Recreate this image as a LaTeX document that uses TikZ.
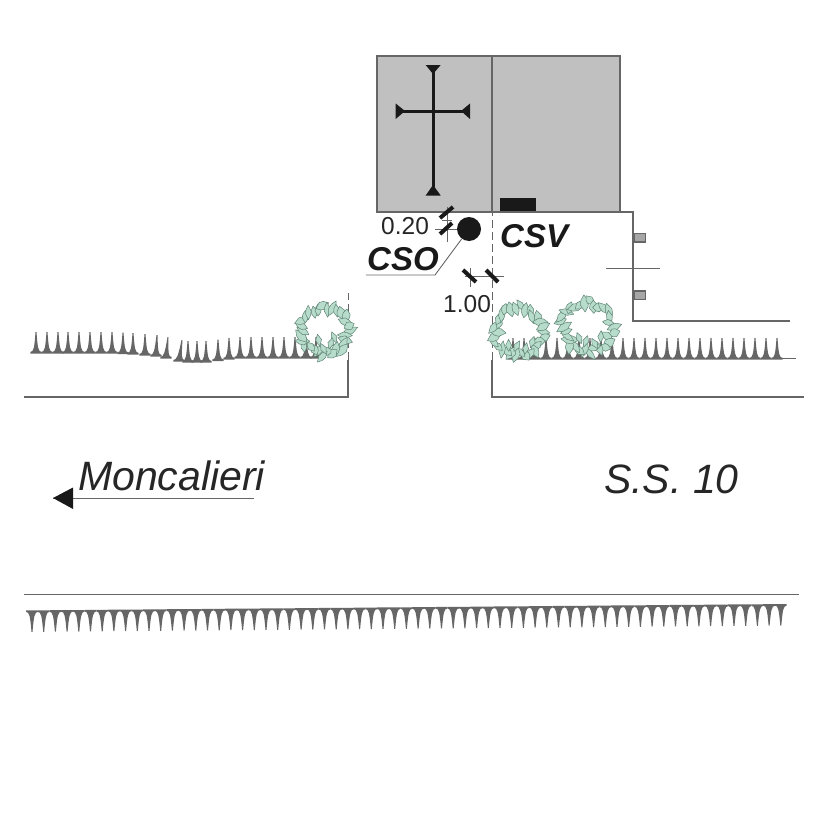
\documentclass[tikz,border=0pt]{standalone}
\usepackage{fontspec}
\setmainfont{Liberation Sans}
\definecolor{linegray}{HTML}{666666}
\definecolor{wallgray}{HTML}{C0C0C0}
\definecolor{grassgray}{HTML}{666666}
\definecolor{leafgreen}{HTML}{B7DCCB}
\definecolor{leafedge}{HTML}{5F8475}
\newcommand{\spike}[3]{%
    \fill[grassgray] ({#1-5.6},#2) .. controls ({#1-2.4},{#2-0.2}) and ({#1-1.6+0.3*#3},{#2-4}) .. ({#1-0.5+#3},{#2-20}) -- ({#1+0.5+#3},{#2-20})
        .. controls ({#1+1.6+0.3*#3},{#2-4}) and ({#1+2.4},{#2-0.2}) .. ({#1+5.6},#2) -- ({#1+5.6},{#2+1.6}) -- ({#1-5.6},{#2+1.6}) -- cycle;
}
\newcommand{\rootspike}[2]{%
    \fill[grassgray] ({#1-5.9},{#2}) .. controls ({#1-2.6},{#2+0.2}) and ({#1-1.9},{#2+4}) .. ({#1-0.5},{#2+20}) -- ({#1+0.5},{#2+20})
        .. controls ({#1+1.9},{#2+4}) and ({#1+2.6},{#2+0.2}) .. ({#1+5.9},{#2}) -- ({#1+5.9},{#2-1.5}) -- ({#1-5.9},{#2-1.5}) -- cycle;
}
\newcommand{\bush}[4]{%
    \pgfmathsetseed{#4}
    \foreach \a in {0,12,...,350} {
        \pgfmathsetmacro{\leafr}{#3-3+7*rnd}
        \pgfmathsetmacro{\leafl}{5.5+3.5*rnd}
        \pgfmathsetmacro{\leafw}{2.8+1.7*rnd}
        \pgfmathsetmacro{\leaft}{\a+130*rnd-65}
        \draw[leaf,shift={({#1+\leafr*cos(\a)},{#2+\leafr*sin(\a)})},rotate=\leaft]
            (-\leafl,0) -- (-0.2*\leafl,-\leafw) -- (0.4*\leafl,-0.8*\leafw) -- (\leafl,0) -- (0.2*\leafl,\leafw) -- (-0.4*\leafl,0.8*\leafw) -- cycle;
    }
    \foreach \a in {35,65,...,145} {
        \pgfmathsetmacro{\leafr}{#3-12+8*rnd}
        \pgfmathsetmacro{\leaft}{60+60*rnd}
        \draw[leaf,shift={({#1+\leafr*cos(\a)},{#2+\leafr*sin(\a)})},rotate=\leaft]
            (-6,0) -- (0,-3) -- (6,0) -- (0,3) -- cycle;
    }
}
\begin{document}
\begin{tikzpicture}[x=1pt,y=-1pt,
    outline/.style={draw=linegray,line width=1.25pt},
    thinline/.style={draw=linegray,line width=0.9pt},
    sideline/.style={thinline,dash pattern=on 8pt off 4pt},
    tick/.style={line width=4pt,black!90},
    leaf/.style={fill=leafgreen,draw=leafedge,line width=0.5pt,line join=round},
    size/.style={font=\fontsize{24.5}{26}\selectfont,text=black!85,inner sep=0pt,anchor=base west},
    tag/.style={font=\fontsize{33}{35}\selectfont\bfseries\itshape,text=black!90,inner sep=0pt,anchor=base west},
    place/.style={font=\fontsize{41}{43}\selectfont\itshape,text=black!85,inner sep=0pt,anchor=base west},
    ]
    \useasboundingbox (0,0) rectangle (827,827);

    % church
    \draw[outline,fill=wallgray] (377,56) rectangle (620,212);
    \draw[outline] (492,56) -- (492,212);
    \fill[black!90] (500,198) rectangle (536,211);
    \draw[line width=3pt,black!90] (433,68) -- (433,190);
    \draw[line width=3pt,black!90] (399,111) -- (467,111);
    \fill[black!90] (425.7,65) -- (440.7,65) -- (433,74) -- cycle;
    \fill[black!90] (425.7,195.5) -- (440.7,195.5) -- (433,185) -- cycle;
    \fill[black!90] (395.7,103.5) -- (395.7,119) -- (405,111) -- cycle;
    \fill[black!90] (470,103.5) -- (470,119) -- (461,111) -- cycle;

    % plot edge
    \draw[outline] (492,212) -- (633,212) -- (633,321) -- (790,321);
    \draw[thinline] (606,268) -- (660,268);
    \draw[outline,fill=black!35] (634,233.5) rectangle (645.5,242);
    \draw[outline,fill=black!35] (634,291) rectangle (645.5,299.5);

    % road
    \draw[outline] (24,397) -- (348,397) -- (348,360);
    \draw[outline] (804,397) -- (492,397) -- (492,360);
    \draw[sideline] (348,360) -- (348,293);
    \draw[sideline] (492,360) -- (492,212);
    \draw[outline] (24,594.5) -- (799,594.5);
    \draw[thinline] (780,358) -- (796,358);

    % grass
    \foreach \x/\y/\t in {36/352/0,47/352/0,58/352/0,68/352/0,79/352/0,90/352/0,101/352/0,112/352/0,
        123/352.5/0,133/353/0,145/354/0,156/355/1,166/357/2,179/360/3,188/361/0,197/361/0,206/361/0,
        218/359.5/0,229/358/0,240/357/0,251/357/0,262/357/0,273/357/0,284/357/0,295/357/0,306/357/0,316/357/0}
        {\spike{\x}{\y}{\t}}
    \foreach \x in {513,524,...,783}
        {\spike{\x}{358}{0}}
    \foreach \x [evaluate=\x as \y using {612-(\x-22)*6.5/770}] in {32,43.7,...,790}
        {\rootspike{\x}{\y}}

    % bushes
    \bush{325}{331}{23}{11}
    \bush{518}{332}{23}{27}
    \bush{587}{327}{24}{53}

    % pole with its distances
    \node[circle,fill=black!90,minimum size=24pt,inner sep=0pt] (pole) at (469,229) {};
    \coordinate (bend) at (435,275);
    \coordinate (tagend) at (366,275);
    \draw[thinline] (pole) -- (bend) -- (tagend);
    \draw[thinline] (447,207) -- (447,242);
    \draw[thinline] (442,220) -- (452,220);
    \draw[thinline] (435,229) -- (pole);
    \draw[tick] (440,218) -- (453,207);
    \draw[tick] (440,234) -- (452,223);
    \draw[thinline] (470,268) -- (470,287);
    \draw[thinline] (465,276) -- (504,276);
    \draw[tick] (463,270) -- (476,282);
    \draw[tick] (486,270) -- (498,282);

    % labels
    \node[size] (width) at (381,234) {0.20};
    \node[size] (gap) at (443,312) {1.00};
    \node[tag] (cso) at (367,270) {CSO};
    \node[tag] (csv) at (500,247) {CSV};
    \node[place] (town) at (78,490) {Moncalieri};
    \node[place] (road) at (604,493) {S.S. 10};

    % direction
    \coordinate (dirend) at (254,498);
    \coordinate (dirtip) at (53,498);
    \draw[thinline] (dirend) -- (dirtip);
    \fill[black!90] (dirtip) -- (73,487.5) -- (73,509) -- cycle;
\end{tikzpicture}
\end{document}
